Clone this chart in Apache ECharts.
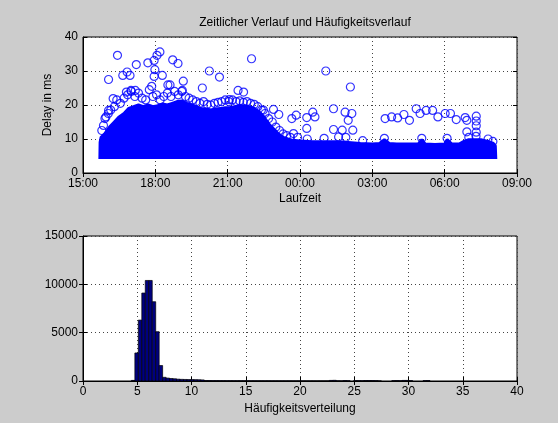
<!DOCTYPE html>
<html>
<head>
<meta charset="utf-8">
<script src="https://cdn.jsdelivr.net/npm/echarts@6/dist/echarts.min.js"></script>
<style>
html, body { margin: 0; padding: 0; background: #cccccc; }
#chart { width: 558px; height: 423px; }
</style>
</head>
<body>
<div id="chart"></div>
<script>
// Zeitachse: Stunden ab Mitternacht des ersten Tages (15 = 15:00, 33 = 09:00 am Folgetag)
const timeLabels = ['15:00', '18:00', '21:00', '00:00', '03:00', '06:00', '09:00'];

// dichter Kern der Messpunkte (obere Hüllkurve)
const coreHour = [15.70, 15.71, 15.75, 15.9, 16.1, 16.3, 16.5, 16.7, 16.9, 17.1, 17.3, 17.5, 17.7, 17.9, 18.1, 18.3, 18.5, 18.7, 18.9, 19.1, 19.3, 19.5, 19.7, 19.9, 20.1, 20.3, 20.5, 20.7, 20.9, 21.1, 21.3, 21.5, 21.7, 21.9, 22.1, 22.3, 22.5, 22.7, 22.9, 23.1, 23.3, 23.5, 23.7, 24.0, 24.5, 25.0, 25.5, 26.0, 26.5, 27.0, 27.3, 27.5, 27.7, 28.0, 28.5, 28.9, 29.05, 29.2, 29.6, 30.0, 30.1, 30.3, 30.6, 30.8, 31.0, 31.5, 31.8, 32.0, 32.10, 32.12];
const coreTop  = [4.1, 9.0, 10.5, 11.5, 13.5, 15.0, 16.5, 17.5, 19.0, 19.5, 20.0, 19.5, 20.0, 19.5, 19.8, 20.3, 20.0, 20.5, 21.0, 21.2, 20.5, 20.0, 19.5, 19.0, 18.8, 18.5, 18.8, 19.0, 19.2, 19.3, 19.5, 19.8, 19.8, 19.5, 19.0, 18.0, 16.5, 14.5, 13.0, 11.5, 10.5, 10.0, 9.6, 9.4, 9.2, 9.2, 9.2, 9.0, 8.7, 8.5, 8.7, 9.8, 8.7, 8.5, 8.5, 8.5, 9.8, 8.5, 8.4, 8.5, 9.8, 8.5, 8.5, 9.3, 9.8, 9.8, 9.3, 8.8, 8.0, 4.1];

// Randpunkte des dichten Bereichs
const fringeHour  = [15.78, 15.85, 15.95, 16.05, 16.15, 16.3, 16.4, 16.55, 16.7, 16.85, 17.0, 17.15, 17.3, 17.45, 17.6, 17.75, 17.9, 18.05, 18.2, 18.35, 18.5, 18.65, 18.8, 18.95, 19.1, 19.25, 19.4, 19.55, 19.7, 19.85, 20.0, 20.15, 20.3, 20.45, 20.6, 20.75, 20.9, 21.05, 21.2, 21.35, 21.5, 21.65, 21.8, 21.95, 22.1, 22.25, 22.4, 22.55, 22.7, 22.85, 23.0, 23.15, 23.3, 23.45, 23.6, 23.9, 24.3, 25.0, 25.9, 26.6, 27.5, 29.05, 30.1, 31.0, 31.3, 31.8, 32.0];
const fringeDelay = [12.5, 14.0, 16.5, 17.5, 18.5, 19.5, 21.5, 20.5, 22.0, 23.0, 24.0, 22.5, 23.5, 22.0, 21.5, 24.5, 22.5, 23.0, 21.5, 22.5, 23.5, 22.5, 24.0, 23.0, 24.0, 22.5, 22.0, 21.5, 21.0, 20.5, 21.0, 20.2, 20.0, 20.5, 20.8, 21.0, 21.5, 21.0, 21.5, 21.0, 21.2, 20.8, 21.0, 20.5, 20.2, 19.5, 18.5, 17.5, 16.0, 15.0, 13.5, 12.5, 11.5, 11.0, 10.5, 10.5, 10.0, 10.2, 10.5, 9.5, 10.2, 10.2, 10.2, 10.5, 10.8, 10.0, 9.3];

// einzelne Ausreißer
const outHour  = [16.06, 16.43, 16.65, 16.83, 16.95, 17.21, 17.69, 17.95, 17.98, 18.07, 18.19, 17.95, 18.29, 17.85, 18.52, 18.61, 18.72, 18.94, 19.16, 19.12, 19.95, 20.24, 20.66, 21.07, 21.43, 21.66, 21.99, 16.99, 17.17, 16.80, 16.25, 16.06, 15.91, 22.48, 22.90, 23.12, 23.66, 23.73, 23.84, 24.28, 24.28, 24.53, 24.62, 25.07, 25.39, 25.39, 25.87, 26.00, 26.15, 26.09, 25.60, 25.75, 26.19, 27.53, 27.80, 28.05, 28.31, 28.54, 28.82, 28.98, 29.23, 29.50, 29.72, 30.02, 30.24, 30.48, 30.85, 30.92, 31.31, 31.31, 31.31, 31.31, 30.92];
const outDelay = [27.5, 34.6, 28.7, 29.7, 28.7, 31.9, 32.4, 33.1, 30.4, 34.6, 35.6, 28.4, 28.7, 25.5, 25.9, 25.9, 33.3, 32.2, 27.0, 24.3, 25.0, 30.0, 28.2, 21.6, 24.3, 23.8, 33.6, 24.3, 24.3, 23.8, 21.9, 18.4, 16.0, 18.5, 18.7, 17.2, 16.0, 11.6, 17.0, 16.3, 13.1, 17.9, 16.5, 30.0, 18.9, 12.8, 17.9, 15.5, 17.5, 25.3, 10.6, 12.6, 12.6, 16.0, 16.5, 16.2, 17.2, 15.5, 18.9, 17.5, 18.4, 18.4, 16.5, 17.5, 17.5, 15.7, 16.3, 12.1, 16.7, 15.3, 13.9, 12.0, 15.5];

// Histogramm: Klassen ab 4.46 ms, Breite 0.32 ms
const binStart = 4.46;
const binWidth = 0.32;
const binCount = [60, 2900, 6300, 9100, 10400, 10400, 8200, 5100, 1600, 380,
  300, 260, 230, 190, 170, 160, 150, 150, 140, 130,
  110, 50, 45, 40, 38, 35, 33, 30, 30, 28,
  26, 25, 25, 24, 22, 22, 20, 20, 18, 18,
  17, 16, 15, 15, 14, 14, 13, 12, 12, 11,
  10, 10, 10, 9, 9, 9, 8, 60, 70, 20,
  10, 50, 30, 0, 40, 40, 30, 50, 50, 50,
  40, 10, 0, 0, 0, 40, 50, 30, 60, 60,
  40, 0, 0, 0, 40, 50, 0, 0, 0, 0,
  0, 0, 0, 0, 0, 0, 0, 0, 0];

const xTicks = [0, 5, 10, 15, 20, 25, 30, 35, 40];

const font = '"Liberation Sans", Arial, Helvetica, sans-serif';
const gridLine = { show: true, lineStyle: { color: '#444', type: [1, 3], width: 1 } };
const labelStyle = { color: '#000', fontSize: 12, fontFamily: font };

const coreData = coreHour.map((h, i) => [h, coreTop[i]]);
const fringeData = fringeHour.map((h, i) => [h, fringeDelay[i]]);
const outData = outHour.map((h, i) => [h, outDelay[i]]);
const histData = binCount.map((c, i) => [binStart + i * binWidth, binStart + (i + 1) * binWidth, c]);

function mirrorAxis(base, pos) {
    return Object.assign({}, base, {
        position: pos,
        axisLabel: { show: false },
        splitLine: { show: false },
        axisLine: { show: false },
        axisTick: { show: true, inside: true, length: 4, lineStyle: { color: '#000' } },
        name: ''
    });
}

const xTime = {
    type: 'value', gridIndex: 0, min: 15, max: 33, interval: 3,
    axisLine: { lineStyle: { color: '#000' } },
    axisTick: { inside: true, length: 4, lineStyle: { color: '#000' } },
    axisLabel: Object.assign({ margin: 5, formatter: v => timeLabels[Math.round((v - 15) / 3)] }, labelStyle),
    splitLine: gridLine,
    name: 'Laufzeit', nameLocation: 'middle', nameGap: 20,
    nameTextStyle: labelStyle
};
const xHist = {
    type: 'value', gridIndex: 1, min: 0, max: 40, interval: 5,
    axisLine: { lineStyle: { color: '#000' } },
    axisTick: { inside: true, length: 4, lineStyle: { color: '#000' } },
    axisLabel: Object.assign({ margin: 5, formatter: v => xTicks.indexOf(v) >= 0 ? String(v) : '' }, labelStyle),
    splitLine: gridLine,
    name: 'Häufigkeitsverteilung', nameLocation: 'middle', nameGap: 22,
    nameTextStyle: labelStyle
};
const yDelay = {
    type: 'value', gridIndex: 0, min: 0, max: 40, interval: 10,
    axisLine: { show: true, lineStyle: { color: '#000' } },
    axisTick: { show: true, inside: true, length: 4, lineStyle: { color: '#000' } },
    axisLabel: Object.assign({ margin: 5 }, labelStyle),
    splitLine: gridLine,
    name: 'Delay in ms', nameLocation: 'middle', nameGap: 16,
    nameTextStyle: labelStyle
};
const yCount = {
    type: 'value', gridIndex: 1, min: 0, max: 15000, interval: 5000,
    axisLine: { show: true, lineStyle: { color: '#000' } },
    axisTick: { show: true, inside: true, length: 4, lineStyle: { color: '#000' } },
    axisLabel: Object.assign({ margin: 5, formatter: v => String(v) }, labelStyle),
    splitLine: gridLine
};

const chart = echarts.init(document.getElementById('chart'), null, { renderer: 'canvas' });

chart.setOption({
    backgroundColor: '#cccccc',
    animation: false,
    title: {
        text: 'Zeitlicher Verlauf und Häufigkeitsverlauf',
        left: 300, top: 12, textAlign: 'center',
        textStyle: { color: '#000', fontSize: 12, fontWeight: 'normal', fontFamily: font }
    },
    grid: [
        { left: 83, top: 37, width: 434, height: 136, show: true, backgroundColor: '#fff', borderColor: '#000', borderWidth: 1 },
        { left: 83, top: 236, width: 434, height: 145, show: true, backgroundColor: '#fff', borderColor: '#000', borderWidth: 1 }
    ],
    xAxis: [xTime, xHist, mirrorAxis(xTime, 'top'), mirrorAxis(xHist, 'top')],
    yAxis: [yDelay, yCount, mirrorAxis(yDelay, 'right'), mirrorAxis(yCount, 'right')],
    series: [
        {
            type: 'line', xAxisIndex: 0, yAxisIndex: 0,
            data: coreData, showSymbol: false, smooth: false,
            lineStyle: { color: '#0000ff', width: 3 },
            areaStyle: { color: '#0000ff', opacity: 1, origin: 4.1 },
            z: 2
        },
        {
            type: 'scatter', xAxisIndex: 0, yAxisIndex: 0,
            data: fringeData.concat(outData),
            symbol: 'circle', symbolSize: 8,
            itemStyle: { color: 'rgba(0,0,0,0)', borderColor: '#0000ff', borderWidth: 1.2 },
            z: 3
        },
        {
            type: 'custom', xAxisIndex: 1, yAxisIndex: 1,
            data: histData,
            encode: { x: [0, 1], y: 2 },
            renderItem: function (params, api) {
                const c = api.value(2);
                if (!c) return null;
                const p0 = api.coord([api.value(0), c]);
                const p1 = api.coord([api.value(1), 0]);
                return {
                    type: 'rect',
                    shape: { x: p0[0], y: p0[1], width: p1[0] - p0[0], height: p1[1] - p0[1] },
                    style: { fill: '#00007f', stroke: '#000', lineWidth: 0.7 }
                };
            },
            z: 3
        }
    ]
});
</script>
</body>
</html>
